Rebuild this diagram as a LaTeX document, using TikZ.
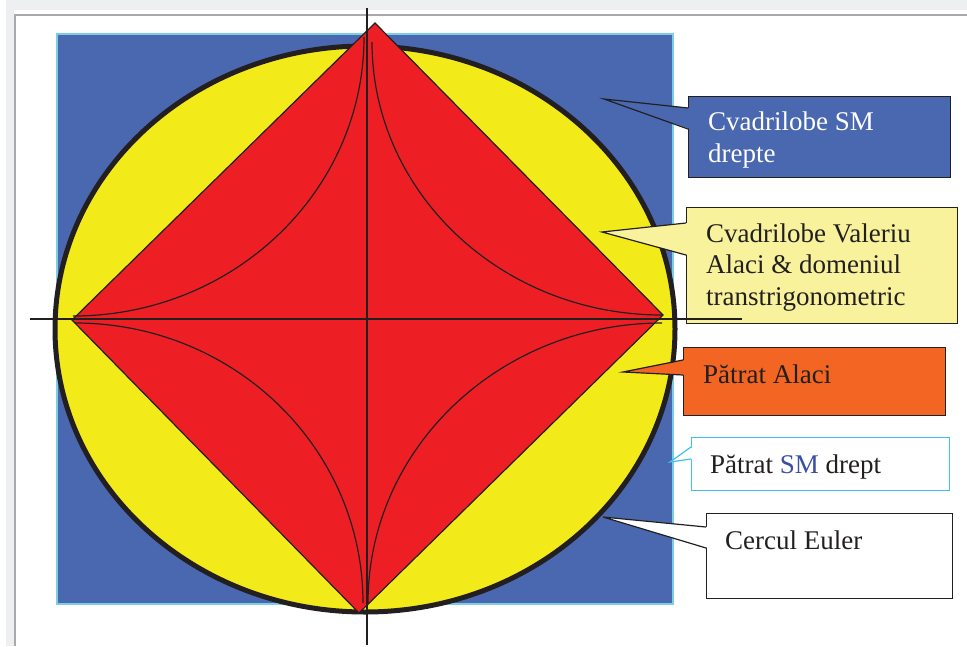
\documentclass[tikz,border=0pt]{standalone}
\usepackage{fontspec}
\setmainfont{Liberation Serif}
\definecolor{framegray}{HTML}{EEEFF1}
\definecolor{framerule}{HTML}{A9A9AB}
\definecolor{sqblue}{HTML}{4A68B0}
\definecolor{sqedge}{HTML}{7CCFE2}
\definecolor{circyellow}{HTML}{F2EA19}
\definecolor{diamred}{HTML}{ED1F24}
\definecolor{inkblack}{HTML}{231F20}
\definecolor{paleyellow}{HTML}{F7F29B}
\definecolor{alaciorange}{HTML}{F26522}
\definecolor{skycyan}{HTML}{3CC2EE}
\definecolor{smblue}{HTML}{3B4FA3}

\begin{document}
\begin{tikzpicture}[x=1pt, y=-1pt,
    boxtxt/.style={anchor=base west, inner sep=0pt, align=left, text=inkblack,
        font=\fontsize{27}{31.5}\selectfont},
    callbox/.style={draw=inkblack, line width=1.2pt, anchor=north west, inner sep=0pt},
    fineline/.style={draw=inkblack, line width=1.2pt}]
            \useasboundingbox (0,0) rectangle (967,646);
            \fill[framegray] (6,0) rectangle (967,10);
            \fill[framegray] (6,0) rectangle (14,646);
            \draw[framerule, line width=2pt] (15,646) -- (15,15) -- (967,15);
            \filldraw[fill=sqblue, draw=sqedge, line width=2pt] (57,34) rectangle (673,604);
            \filldraw[fill=circyellow, draw=inkblack, line width=5pt] (365,329) ellipse [x radius=310, y radius=283];
            \coordinate (dtop) at (375,23);
            \coordinate (dright) at (663,315);
            \coordinate (dbottom) at (359,613);
            \coordinate (dleft) at (72,320);
            \filldraw[fill=diamred, fineline] (dtop) -- (dright) -- (dbottom) -- (dleft) -- cycle;
            \draw[fineline] (364,37) .. controls (364,191) and (234,316) .. (73,316);
            \draw[fineline] (372,42) .. controls (372,193) and (502,315) .. (662,315);
            \draw[fineline] (75,323) .. controls (234,323) and (363,448) .. (363,603);
            \draw[fineline] (662,323) .. controls (500,323) and (368,448) .. (368,603);

            \node[callbox, fill=sqblue, minimum width=262, minimum height=81] (boxsm) at (688,96) {};
            \coordinate (tipsm) at (604,99);
            \coordinate (smA) at (688,108);
            \coordinate (smB) at (688,129);
            \fill[sqblue] ([xshift=2pt]smA) -- (tipsm) -- ([xshift=2pt]smB) -- cycle;
            \draw[fineline] (smA) -- (tipsm) -- (smB);
            \node[boxtxt, text=white] (txtsm) at (708,162) {Cvadrilobe SM\\drepte};

            \node[callbox, fill=paleyellow, minimum width=271, minimum height=116] (boxva) at (686,207) {};
            \coordinate (tipva) at (602,232);
            \coordinate (vaA) at (686,223);
            \coordinate (vaB) at (686,255);
            \fill[paleyellow] ([xshift=2pt]vaA) -- (tipva) -- ([xshift=2pt]vaB) -- cycle;
            \draw[fineline] (vaA) -- (tipva) -- (vaB);
            \node[boxtxt] (txtva) at (706,305) {Cvadrilobe Valeriu\\Alaci \& domeniul\\transtrigonometric};

            \node[callbox, fill=alaciorange, minimum width=262, minimum height=68] (boxpa) at (683,347) {};
            \coordinate (tippa) at (623,372);
            \coordinate (paA) at (683,360);
            \coordinate (paB) at (683,375);
            \fill[alaciorange] ([xshift=2pt]paA) -- (tippa) -- ([xshift=2pt]paB) -- cycle;
            \draw[fineline] (paA) -- (tippa) -- (paB);
            \node[boxtxt] (txtpa) at (703,383) {Pătrat Alaci};

            \node[callbox, draw=skycyan, fill=white, minimum width=258, minimum height=53] (boxps) at (691,437) {};
            \coordinate (tipps) at (670,462);
            \coordinate (psA) at (691,447);
            \coordinate (psB) at (691,459);
            \fill[white] ([xshift=2pt]psA) -- (tipps) -- ([xshift=2pt]psB) -- cycle;
            \draw[fineline, draw=skycyan] (psA) -- (tipps) -- (psB);
            \node[boxtxt] (txtps) at (710,473) {Pătrat \textcolor{smblue}{SM} drept};

            \node[callbox, fill=white, minimum width=246, minimum height=85] (boxce) at (706,513) {};
            \coordinate (tipce) at (603,517);
            \coordinate (ceA) at (706,527);
            \coordinate (ceB) at (706,548);
            \fill[white] ([xshift=2pt]ceA) -- (tipce) -- ([xshift=2pt]ceB) -- cycle;
            \draw[fineline] (ceA) -- (tipce) -- (ceB);
            \node[boxtxt] (txtce) at (725,549) {Cercul Euler};

            \coordinate (axtop) at (367,8);
            \coordinate (axbottom) at (367,645);
            \coordinate (axleft) at (30,319);
            \coordinate (axright) at (742,319);
            \draw[fineline, line width=1.5pt] (axtop) -- (axbottom);
            \draw[fineline, line width=1.5pt] (axleft) -- (axright);
\end{tikzpicture}
\end{document}
